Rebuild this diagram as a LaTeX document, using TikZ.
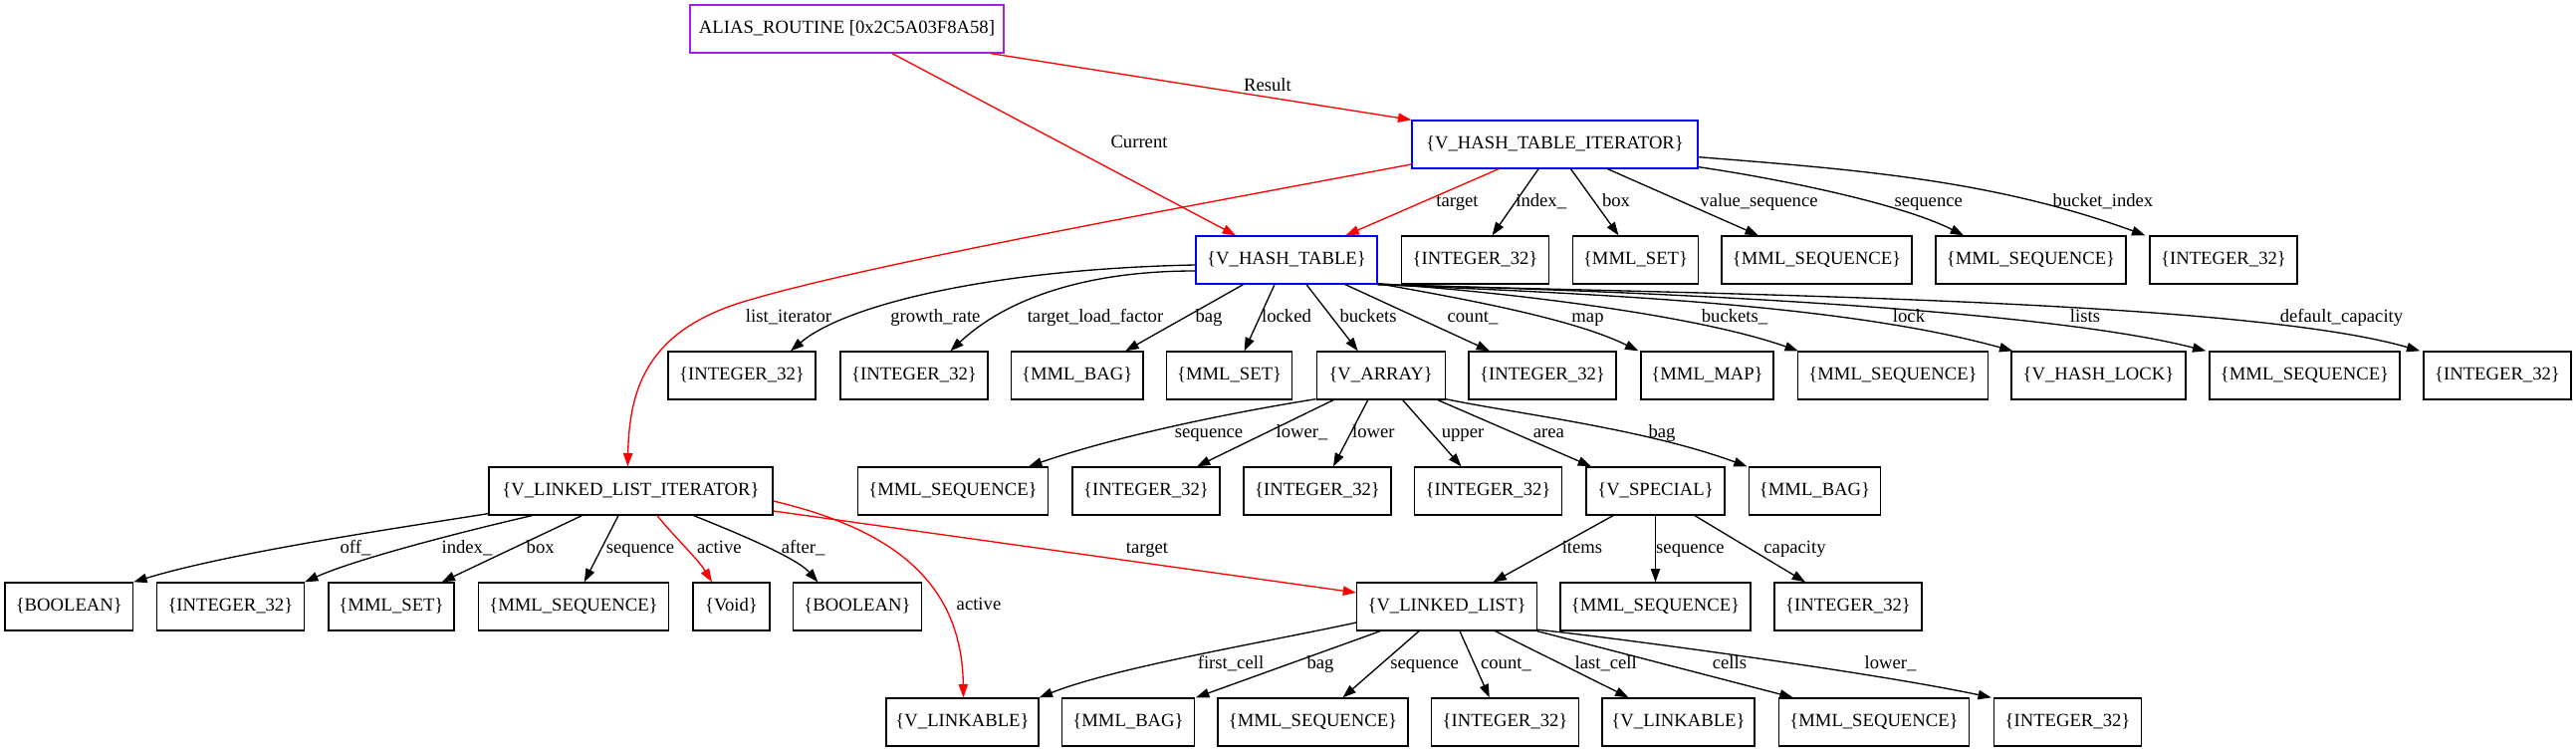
\documentclass[tikz,border=0pt]{standalone}
\usepackage{fontspec}
\setmainfont{Liberation Serif}
\usetikzlibrary{arrows.meta,calc}
\definecolor{gvpurple}{RGB}{160,32,240}
\begin{document}
\begin{tikzpicture}[x=0.75pt,y=-0.75pt,
  box/.style={draw, line width=1pt, minimum height=36pt, inner sep=0pt, text height=9.5pt, text depth=2.5pt, font=\fontsize{14pt}{16pt}\selectfont},
  intb/.style={box, minimum width=111pt},
  seqb/.style={box, minimum width=143.25pt},
  setb/.style={box, minimum width=94.5pt},
  bagb/.style={box, minimum width=99.4pt},
  boolb/.style={box, minimum width=96.4pt},
  linkb/.style={box, minimum width=114.75pt},
  lbl/.style={inner sep=0pt, text height=9.5pt, text depth=2.5pt, font=\fontsize{14pt}{16pt}\selectfont},
  edge/.style={draw, line width=1pt, -{Triangle[length=10pt,width=7pt]}},
  redge/.style={edge, red}]
\useasboundingbox (0,0) rectangle (2587,755);
% row 0
\node[box, draw=gvpurple, minimum width=236.25pt] (alias) at (850.5,29) {ALIAS\_ROUTINE [0x2C5A03F8A58]};
% row 1
\node[box, draw=blue, minimum width=215.25pt] (hti) at (1561.5,145) {\{V\_HASH\_TABLE\_ITERATOR\}};
% row 2
\node[box, draw=blue, minimum width=136.5pt] (ht) at (1292,261) {\{V\_HASH\_TABLE\}};
\node[intb] (htiInt) at (1481.5,261) {\{INTEGER\_32\}};
\node[setb] (htiSet) at (1642.5,261) {\{MML\_SET\}};
\node[seqb] (htiVseq) at (1824.5,261) {\{MML\_SEQUENCE\}};
\node[seqb] (htiSeq) at (2039.5,261) {\{MML\_SEQUENCE\}};
\node[intb] (htiBidx) at (2233,261) {\{INTEGER\_32\}};
% row 3
\node[intb] (htGr) at (745,377) {\{INTEGER\_32\}};
\node[intb] (htTlf) at (918,377) {\{INTEGER\_32\}};
\node[bagb] (htBag) at (1081.7,377) {\{MML\_BAG\}};
\node[setb] (htLocked) at (1234.6,377) {\{MML\_SET\}};
\node[box, minimum width=96.75pt] (varray) at (1386.7,377) {\{V\_ARRAY\}};
\node[intb] (htCount) at (1549,377) {\{INTEGER\_32\}};
\node[box, minimum width=99.75pt] (htMap) at (1714.5,377) {\{MML\_MAP\}};
\node[seqb] (htBuckets) at (1901,377) {\{MML\_SEQUENCE\}};
\node[box, minimum width=131.25pt] (htLock) at (2107.5,377) {\{V\_HASH\_LOCK\}};
\node[seqb] (htLists) at (2314.5,377) {\{MML\_SEQUENCE\}};
\node[intb] (htDefcap) at (2508,377) {\{INTEGER\_32\}};
% row 4
\node[box, minimum width=213.75pt] (lli) at (633.4,493) {\{V\_LINKED\_LIST\_ITERATOR\}};
\node[seqb] (vaSeq) at (957,493) {\{MML\_SEQUENCE\}};
\node[intb] (vaLowerU) at (1151,493) {\{INTEGER\_32\}};
\node[intb] (vaLower) at (1323,493) {\{INTEGER\_32\}};
\node[intb] (vaUpper) at (1494.5,493) {\{INTEGER\_32\}};
\node[box, minimum width=104.25pt] (vspecial) at (1662.5,493) {\{V\_SPECIAL\}};
\node[bagb] (vaBag) at (1822.5,493) {\{MML\_BAG\}};
% row 5
\node[boolb] (lliOff) at (69.3,609) {\{BOOLEAN\}};
\node[intb] (lliIndex) at (231.4,609) {\{INTEGER\_32\}};
\node[setb] (lliBox) at (393,609) {\{MML\_SET\}};
\node[seqb] (lliSeq) at (576,609) {\{MML\_SEQUENCE\}};
\node[box, minimum width=57.75pt] (void) at (734.5,609) {\{Void\}};
\node[boolb] (lliAfter) at (861,609) {\{BOOLEAN\}};
\node[box, minimum width=135.4pt] (vll) at (1453,609) {\{V\_LINKED\_LIST\}};
\node[seqb] (vsSeq) at (1662.5,609) {\{MML\_SEQUENCE\}};
\node[intb] (vsCap) at (1856,609) {\{INTEGER\_32\}};
% row 6
\node[linkb] (vlinkA) at (966.5,725) {\{V\_LINKABLE\}};
\node[bagb] (vllBag) at (1133,725) {\{MML\_BAG\}};
\node[seqb] (vllSeq) at (1318.5,725) {\{MML\_SEQUENCE\}};
\node[intb] (vllCount) at (1511.5,725) {\{INTEGER\_32\}};
\node[linkb] (vlinkB) at (1685.5,725) {\{V\_LINKABLE\}};
\node[seqb] (vllCells) at (1882,725) {\{MML\_SEQUENCE\}};
\node[intb] (vllLower) at (2076.5,725) {\{INTEGER\_32\}};

% edges from ALIAS_ROUTINE
\draw[redge] ($(alias.south)+(144.5,0)$) -- (hti.north west);
\draw[redge] ($(alias.south)+(45.5,0)$) -- ($(ht.north)+(-51,0)$);
% edges from V_HASH_TABLE_ITERATOR
\draw[redge] ($(hti.south)+(-56.5,0)$) -- ($(ht.north)+(59.5,0)$);
\draw[redge] ($(hti.west)+(0,20)$) .. controls (1150,215) and (850,270) .. (740,305) .. controls (650,335) and (632,390) .. ($(lli.north)+(-3,0)$);
\draw[edge] ($(hti.south)+(-16.5,0)$) -- ($(htiInt.north)+(17,0)$);
\draw[edge] ($(hti.south)+(16,0)$) -- ($(htiSet.north)+(-17,0)$);
\draw[edge] ($(hti.south)+(53,0)$) -- ($(htiVseq.north)+(-58.7,0)$);
\draw[edge] ($(hti.south east)+(0,-2)$) .. controls (1790,180) and (1910,205) .. ($(htiSeq.north)+(-67.5,0)$);
\draw[edge] ($(hti.east)+(0,12.7)$) .. controls (1860,170) and (2000,180) .. ($(htiBidx.north west)+(-4,0)$);
% edges from V_HASH_TABLE
\draw[edge] ($(ht.west)+(0,5)$) .. controls (1000,270) and (850,305) .. ($(htGr.north)+(49,0)$);
\draw[edge] ($(ht.west)+(0,11)$) .. controls (1080,272) and (1005,305) .. ($(htTlf.north)+(36.5,0)$);
\draw[edge] ($(ht.south)+(-43.5,0)$) -- ($(htBag.north)+(48.6,0)$);
\draw[edge] ($(ht.south)+(-12,0)$) -- ($(htLocked.north)+(15,0)$);
\draw[edge] ($(ht.south)+(20,0)$) -- ($(varray.north)+(-23,0)$);
\draw[edge] ($(ht.south)+(59,0)$) -- ($(htCount.north)+(-53,0)$);
\draw[edge] ($(ht.south east)+(0,-1)$) .. controls (1470,300) and (1580,320) .. ($(htMap.north west)+(-2,0)$);
\draw[edge] ($(ht.south east)+(0,-1)$) .. controls (1500,292) and (1700,315) .. ($(htBuckets.north west)+(1,0)$);
\draw[edge] (ht.south east) .. controls (1600,295) and (1850,305) .. ($(htLock.north west)+(2,0)$);
\draw[edge] (ht.south east) .. controls (1650,292) and (2050,310) .. ($(htLists.north west)+(-3,0)$);
\draw[edge] (ht.south east) .. controls (1700,295) and (2250,300) .. ($(htDefcap.north west)+(-3,0)$);
% edges from V_ARRAY
\draw[edge] ($(varray.south west)+(0,-1)$) .. controls (1250,412) and (1130,435) .. ($(vaSeq.north)+(76,0)$);
\draw[edge] ($(varray.south)+(-47.7,0)$) -- ($(vaLowerU.north)+(51,0)$);
\draw[edge] ($(varray.south)+(-13,0)$) -- ($(vaLower.north)+(16,0)$);
\draw[edge] ($(varray.south)+(22,0)$) -- ($(vaUpper.north)+(-27,0)$);
\draw[edge] ($(varray.south)+(57.3,0)$) -- ($(vspecial.north)+(-64.5,0)$);
\draw[edge] ($(varray.south east)+(0,-1)$) .. controls (1520,415) and (1650,430) .. ($(vaBag.north west)+(-1,0)$);
% edges from V_SPECIAL
\draw[edge] ($(vspecial.south)+(-42.5,0)$) -- ($(vll.north)+(46.5,0)$);
\draw[edge] (vspecial.south) -- (vsSeq.north);
\draw[edge] ($(vspecial.south)+(39.5,0)$) -- ($(vsCap.north)+(-43,0)$);
% edges from V_LINKED_LIST_ITERATOR
\draw[edge] ($(lli.south west)+(0,-2)$) .. controls (400,530) and (230,555) .. (lliOff.north east);
\draw[edge] ($(lli.south west)+(44,0)$) .. controls (480,530) and (360,560) .. (lliIndex.north east);
\draw[edge] ($(lli.south)+(-49,0)$) -- ($(lliBox.north)+(50.7,0)$);
\draw[edge] ($(lli.south)+(-12.4,0)$) -- ($(lliSeq.north)+(10.7,0)$);
\draw[redge] ($(lli.south)+(26.6,0)$) .. controls (678,540) and (700,560) .. ($(void.north)+(-19.5,0)$);
\draw[edge] ($(lli.south)+(63.3,0)$) .. controls (740,535) and (800,560) .. ($(lliAfter.north)+(-39.6,0)$);
\draw[redge] ($(lli.east)+(0,20)$) -- ($(vll.west)+(0,-14)$);
\draw[redge] ($(lli.east)+(0,10)$) .. controls (890,530) and (966,580) .. ($(vlinkA.north)+(1,0)$);
% edges from V_LINKED_LIST
\draw[edge] ($(vll.west)+(0,16)$) .. controls (1270,645) and (1120,670) .. (vlinkA.north east);
\draw[edge] ($(vll.south west)+(24,0)$) -- ($(vllBag.north)+(68,0)$);
\draw[edge] ($(vll.south)+(-28,0)$) -- ($(vllSeq.north)+(30,0)$);
\draw[edge] ($(vll.south)+(13,0)$) -- ($(vllCount.north)+(-15.7,0)$);
\draw[edge] ($(vll.south)+(48.6,0)$) -- ($(vlinkB.north)+(-50,0)$);
\draw[edge] (vll.south east) -- ($(vllCells.north)+(-81.3,0)$);
\draw[edge] ($(vll.south east)+(0,-1.5)$) .. controls (1620,640) and (1880,675) .. ($(vllLower.north west)+(-2,0)$);

% labels
\node[lbl] (lResult) at (1273,87) {Result};
\node[lbl] (lCurrent) at (1144,144) {Current};
\node[lbl] (lTarget1) at (1463.5,203) {target};
\node[lbl] (lIndex1) at (1547.7,203) {index\_};
\node[lbl] (lBox1) at (1623,203) {box};
\node[lbl] (lVseq) at (1766.5,203) {value\_sequence};
\node[lbl] (lSeq1) at (1936.7,203) {sequence};
\node[lbl] (lBidx) at (2112,203) {bucket\_index};
\node[lbl] (lListIt) at (792,319) {list\_iterator};
\node[lbl] (lGrowth) at (939.4,319) {growth\_rate};
\node[lbl] (lTlf) at (1100,319) {target\_load\_factor};
\node[lbl] (lBag1) at (1214,319) {bag};
\node[lbl] (lLocked) at (1292,319) {locked};
\node[lbl] (lBuckets) at (1374,319) {buckets};
\node[lbl] (lCount1) at (1479,319) {count\_};
\node[lbl] (lMap) at (1594.5,319) {map};
\node[lbl] (lBucketsU) at (1742,319) {buckets\_};
\node[lbl] (lLock) at (1917,319) {lock};
\node[lbl] (lLists) at (2094,319) {lists};
\node[lbl] (lDefcap) at (2351.5,319) {default\_capacity};
\node[lbl] (lSeq2) at (1214,435) {sequence};
\node[lbl] (lLowerU1) at (1307.5,435) {lower\_};
\node[lbl] (lLower) at (1379.4,435) {lower};
\node[lbl] (lUpper) at (1469,435) {upper};
\node[lbl] (lArea) at (1555.4,435) {area};
\node[lbl] (lBag2) at (1669,435) {bag};
\node[lbl] (lOff) at (357,551) {off\_};
\node[lbl] (lIndex2) at (469,551) {index\_};
\node[lbl] (lBox2) at (542.7,551) {box};
\node[lbl] (lSeq3) at (643,551) {sequence};
\node[lbl] (lActive1) at (722.4,551) {active};
\node[lbl] (lAfter) at (806.7,551) {after\_};
\node[lbl] (lTarget2) at (1152,551) {target};
\node[lbl] (lItems) at (1589,551) {items};
\node[lbl] (lSeq4) at (1697.4,551) {sequence};
\node[lbl] (lCapacity) at (1802.5,551) {capacity};
\node[lbl] (lActive2) at (983,608) {active};
\node[lbl] (lFirst) at (1236,667) {first\_cell};
\node[lbl] (lBag3) at (1326,667) {bag};
\node[lbl] (lSeq5) at (1430.6,667) {sequence};
\node[lbl] (lCount2) at (1512.5,667) {count\_};
\node[lbl] (lLast) at (1612.7,667) {last\_cell};
\node[lbl] (lCells) at (1737,667) {cells};
\node[lbl] (lLowerU2) at (1898.5,667) {lower\_};
\end{tikzpicture}
\end{document}
